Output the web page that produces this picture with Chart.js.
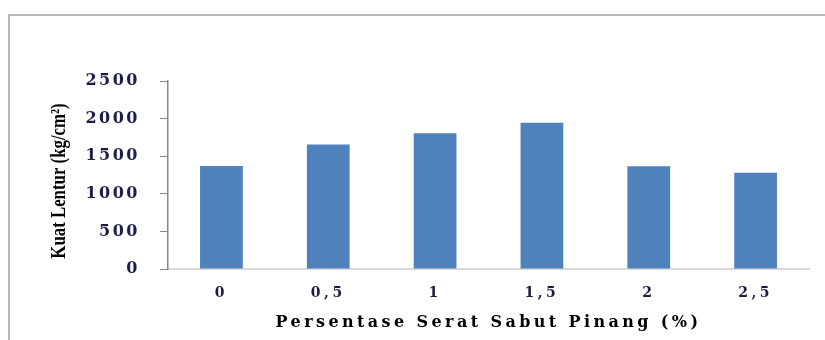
<!DOCTYPE html>
<html>
<head>
<meta charset="utf-8">
<script src="https://cdn.jsdelivr.net/npm/chart.js@4/dist/chart.umd.min.js"></script>
<style>
  html, body { margin: 0; padding: 0; background: #fff; }
  #wrap { position: relative; width: 825px; height: 340px; overflow: hidden; }
  #frame { position: absolute; left: 8px; top: 14px; width: 900px; height: 400px;
           border-top: 2px solid #b8b8b8; border-left: 2px solid #b8b8b8; box-sizing: border-box; }
  canvas { position: absolute; left: 0; top: 0; }
</style>
</head>
<body>
<div id="wrap">
  <div id="frame"></div>
  <canvas id="c" width="825" height="340"></canvas>
</div>
<script>
const categories = ['0', '0,5', '1', '1,5', '2', '2,5'];
const kuatLentur = [1370, 1655, 1805, 1945, 1365, 1280];
const yTicks = [0, 500, 1000, 1500, 2000, 2500];
const xTitle = 'Persentase Serat Sabut Pinang (%)';
const yTitle = 'Kuat Lentur (kg/cm²)';

// letter spacing (px) used for each text group
const SP_Y_LABELS = 2.5, SP_X_LABELS = 3.5, SP_X_TITLE = 3.4;

function withSpacing(scale, method, px, extra) {
  const orig = scale[method];
  scale[method] = function () {
    const ctx = this.ctx;
    const prev = ctx.letterSpacing;
    ctx.letterSpacing = px + 'px';
    ctx.save();
    if (extra) extra.call(this, ctx);
    orig.apply(this, arguments);
    ctx.restore();
    ctx.letterSpacing = prev;
  };
}

const spacingPlugin = {
  id: 'spacing',
  afterInit(chart) {
    const ctx = chart.ctx;
    const origFill = CanvasRenderingContext2D.prototype.fillText;
    ctx.fillText = function (text, x, y) {
      const s = parseFloat(this.letterSpacing) || 0;
      const align = this.textAlign;
      if (!s || align === 'left' || align === 'start') return origFill.call(this, text, x, y);
      const ls = this.letterSpacing;
      this.letterSpacing = '0px';
      const w0 = this.measureText(text).width;
      this.letterSpacing = ls;
      const n = Array.from(String(text)).length;
      const vis = w0 + (n - 1) * s;
      const start = (align === 'right' || align === 'end') ? x - vis : x - vis / 2;
      this.textAlign = 'left';
      origFill.call(this, text, start, y);
      this.textAlign = align;
    };
  },
  beforeDraw(chart) {
    const xs = chart.scales.x, ys = chart.scales.y;
    if (!ys._wrapped) {
      withSpacing(ys, 'drawLabels', SP_Y_LABELS);
      withSpacing(ys, 'drawTitle', 0, function (ctx) {
        // condensed, taller title like the original
        const cy = (this.top + this.bottom) / 2;
        ctx.translate(0, cy + 6);
        ctx.scale(1, 0.8);
        ctx.translate(0, -cy);
      });
      ys._wrapped = true;
    }
    if (!xs._wrapped) {
      withSpacing(xs, 'drawLabels', SP_X_LABELS);
      withSpacing(xs, 'drawTitle', SP_X_TITLE);
      xs._wrapped = true;
    }
  }
};

new Chart(document.getElementById('c'), {
  type: 'bar',
  data: {
    labels: categories,
    datasets: [{
      data: kuatLentur,
      backgroundColor: '#4F81BD',
      borderWidth: 0,
      barPercentage: 0.4,
      categoryPercentage: 1.0
    }]
  },
  options: {
    responsive: false,
    animation: false,
    devicePixelRatio: 1,
    layout: { padding: { top: 81, right: 16, left: 47, bottom: 0 } },
    plugins: { legend: { display: false }, tooltip: { enabled: false } },
    scales: {
      x: {
        grid: { display: false, drawTicks: false, tickLength: 0 },
        border: { color: '#d9d9d9', width: 2 },
        afterFit(scale) { scale.height = 71; },
        ticks: {
          padding: 16,
          color: '#1e1e3c',
          font: { family: 'DejaVu Serif', weight: 'bold', size: 14 }
        },
        title: {
          display: true,
          text: xTitle,
          color: '#000',
          padding: { top: 10, bottom: 8 },
          font: { family: 'DejaVu Serif', weight: 'bold', size: 16 }
        }
      },
      y: {
        min: 0,
        max: 2500,
        afterBuildTicks(scale) { scale.ticks = yTicks.map(v => ({ value: v })); },
        afterFit(scale) { scale.width = 121; },
        grid: { drawOnChartArea: false, drawTicks: true, tickLength: 8, color: '#888', lineWidth: 1 },
        border: { color: '#888', width: 1.5 },
        ticks: {
          padding: 20,
          color: '#1e1e4a',
          font: { family: 'DejaVu Serif', weight: 'bold', size: 16 },
          callback: (v) => String(v)
        },
        title: {
          display: true,
          text: yTitle,
          color: '#000',
          padding: 0,
          font: { family: 'Liberation Serif', weight: 'bold', size: 21 }
        }
      }
    }
  },
  plugins: [spacingPlugin]
});
</script>
</body>
</html>
